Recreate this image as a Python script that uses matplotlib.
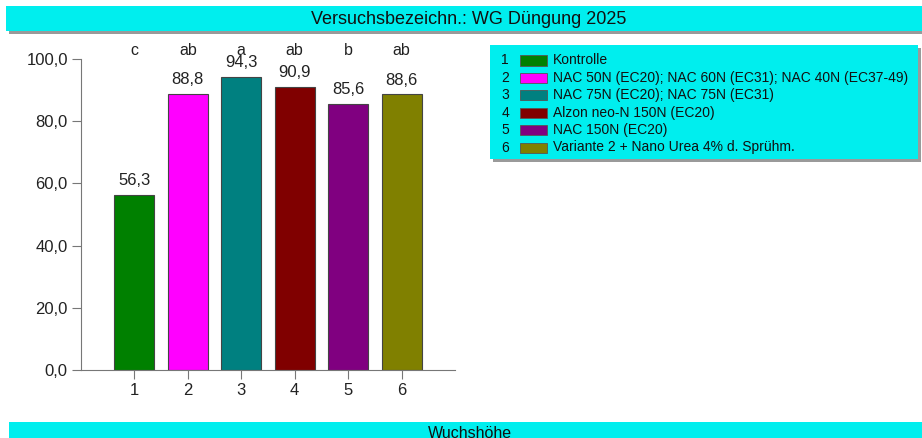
import matplotlib.pyplot as plt
from matplotlib.patches import Rectangle

# ============================================================
# DATA
# ============================================================

variants = [1, 2, 3, 4, 5, 6]
values = [56.3, 88.8, 94.3, 90.9, 85.6, 88.6]
letters = ["c", "ab", "a", "ab", "b", "ab"]
colors = ["#008000", "#ff00ff", "#008080", "#800000", "#800080", "#808000"]
legend_labels = [
    "Kontrolle",
    "NAC 50N (EC20); NAC 60N (EC31); NAC 40N (EC37-49)",
    "NAC 75N (EC20); NAC 75N (EC31)",
    "Alzon neo-N 150N (EC20)",
    "NAC 150N (EC20)",
    "Variante 2 + Nano Urea 4% d. Sprühm.",
]
yticks = [0, 20, 40, 60, 80, 100]

TITLE = "Versuchsbezeichn.: WG Düngung 2025"
FOOTER = "Wuchshöhe"
CYAN = "#00eeee"

plt.rcParams["font.family"] = ["Liberation Sans", "DejaVu Sans"]

W, H = 922, 438
fig = plt.figure(figsize=(W / 100, H / 100), dpi=100)


def px_rect(x0, y0, x1, y1):
    """pixel box (top-left origin) -> figure fraction rect"""
    return (x0 / W, 1 - y1 / H, (x1 - x0) / W, (y1 - y0) / H)


def cyan_box(x0, y0, x1, y1, shadow=True):
    if shadow:
        l, b, w, h = px_rect(x0 + 3, y0 + 3, x1 + 3, y1 + 3)
        fig.patches.append(Rectangle((l, b), w, h, transform=fig.transFigure,
                                     facecolor="#9a9a9a", edgecolor="none", zorder=0))
    l, b, w, h = px_rect(x0, y0, x1, y1)
    fig.patches.append(Rectangle((l, b), w, h, transform=fig.transFigure,
                                 facecolor=CYAN, edgecolor="none", zorder=1))


# ============================================================
# HEADER / FOOTER BARS
# ============================================================

cyan_box(6, 6, 922, 31)
fig.text(469 / W, 1 - 24.5 / H, TITLE, ha="center", va="baseline", fontsize=13, color="#111111")

cyan_box(9, 422, 922, 440, shadow=False)
fig.text(470 / W, 1 - 437.5 / H, FOOTER, ha="center", va="baseline", fontsize=11.5, color="#111111")

# ============================================================
# BAR CHART
# ============================================================

ax = fig.add_axes(px_rect(81, 59, 455, 370))
ax.bar(variants, values, width=0.75, color=colors, edgecolor="#444444", linewidth=0.8)
for x, v, lt in zip(variants, values, letters):
    ax.text(x, v + 3.2, f"{v:.1f}".replace(".", ","), ha="center", va="baseline", fontsize=12, color="#222222")
    ax.text(x, 101.3, lt, ha="center", va="baseline", fontsize=11.5, color="#222222", clip_on=False)

ax.set_xlim(0, 7)
ax.set_ylim(0, 100)
ax.set_xticks(variants)
ax.set_yticks(yticks)
ax.set_yticklabels([f"{t:.1f}".replace(".", ",") for t in yticks])
ax.tick_params(labelsize=12, colors="#222222", length=6.5, pad=3, color="#777777")
for side in ["top", "right"]:
    ax.spines[side].set_visible(False)
for side in ["left", "bottom"]:
    ax.spines[side].set_color("#777777")

# ============================================================
# LEGEND (drawn by hand, boxed like the original)
# ============================================================

cyan_box(490, 45, 918, 159)
for i, (num, lab, c) in enumerate(zip(variants, legend_labels, colors)):
    yc = 60.5 + i * 17.4
    fig.text(505 / W, 1 - yc / H, str(num), ha="center", va="center", fontsize=10, color="#111111")
    l, b, w, h = px_rect(520, yc - 5, 547, yc + 5)
    fig.patches.append(Rectangle((l, b), w, h, transform=fig.transFigure,
                                 facecolor=c, edgecolor="#555555", linewidth=0.6, zorder=2))
    fig.text(553 / W, 1 - yc / H, lab, ha="left", va="center", fontsize=10, color="#111111")

fig.savefig("out.png", dpi=100)
